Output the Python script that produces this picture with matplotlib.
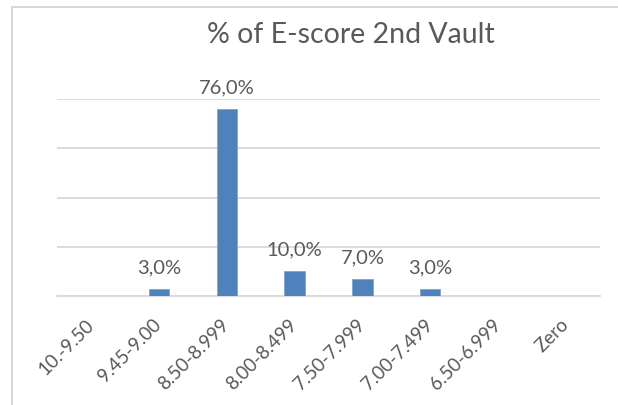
import matplotlib.pyplot as plt
from matplotlib.lines import Line2D

# data
categories = ['10.-9.50', '9.45-9.00', '8.50-8.999', '8.00-8.499',
              '7.50-7.999', '7.00-7.499', '6.50-6.999', 'Zero']
percent = [0, 3.0, 76.0, 10.0, 7.0, 3.0, 0, 0]

plt.rcParams['font.family'] = ['Lato', 'DejaVu Sans']
txt = '#595959'
grid = '#D9D9D9'

W, H = 618, 406
fig = plt.figure(figsize=(W / 100, H / 100), dpi=100)
ax = fig.add_axes([57 / W, 1 - 297 / H, (600 - 57) / W, (297 - 100) / H])

x = range(len(categories))
bars = ax.bar(x, percent, width=0.3, color='#4F81BD', edgecolor='#7FA3D1',
              linewidth=0.6, zorder=3)
for xi, v in zip(x, percent):
    if v > 0:
        ax.annotate(f'{v:.1f}%'.replace('.', ','), (xi, v), xytext=(0, 12),
                    textcoords='offset points', ha='center', va='baseline',
                    fontsize=14.5, color=txt)

ax.set_xlim(-0.5, len(categories) - 0.5)
ax.set_ylim(0, 80)
ax.set_yticks([0, 20, 40, 60, 80])
ax.yaxis.grid(True, color=grid, linewidth=1.3, zorder=0)
ax.tick_params(axis='y', left=False, labelleft=False)
ax.tick_params(axis='x', length=0, pad=18)
for s in ['top', 'right', 'left']:
    ax.spines[s].set_visible(False)
ax.spines['bottom'].set_color(grid)
ax.spines['bottom'].set_linewidth(1.3)
ax.set_xticks(list(x))
ax.set_xticklabels(categories, rotation=45, ha='right', va='center',
                   rotation_mode='anchor', fontsize=13.5, color=txt)

fig.text(351 / W, 1 - 35 / H, '% of E-score 2nd Vault', ha='center',
         va='center', fontsize=20.5, color=txt)

# chart area border (top and left visible)
fig.add_artist(Line2D([12 / W, 12 / W], [0, 1 - 8 / H], transform=fig.transFigure,
                      color=grid, linewidth=1.5))
fig.add_artist(Line2D([12 / W, 1], [1 - 8 / H, 1 - 8 / H], transform=fig.transFigure,
                      color=grid, linewidth=1.5))

fig.savefig('out.png', dpi=100)
